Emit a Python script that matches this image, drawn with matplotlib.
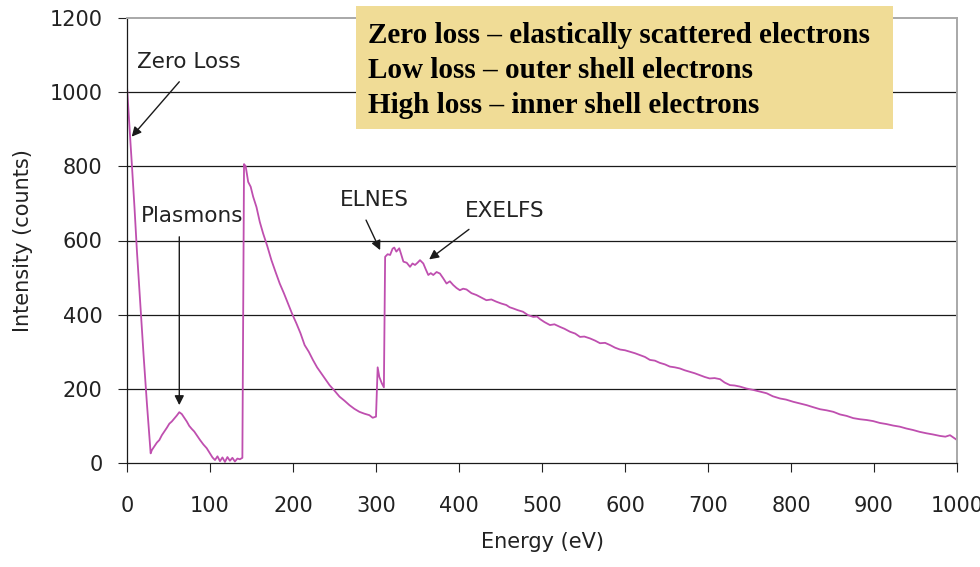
import matplotlib
matplotlib.use("Agg")
import matplotlib.pyplot as plt
from matplotlib.patches import Rectangle

# ---- data ----
energy_zero = [0, 2, 4, 6, 9, 12, 16.5, 20, 24, 28.5]
counts_zero = [1015, 940, 870, 800, 690, 570, 410, 290, 160, 26]

energy_plasmon = [30, 33, 36, 39, 42, 45, 48, 51, 54, 57, 60, 63, 66, 69, 72, 75, 78, 81, 84, 88,
                  92, 96, 100, 103, 106, 109, 112, 115, 118, 121, 124, 127, 130, 133, 136, 139]
counts_plasmon = [35, 45, 55, 62, 75, 85, 95, 106, 112, 120, 128, 137, 132, 122, 112, 100, 92, 85, 75, 62,
                  50, 40, 26, 15, 8, 18, 5, 15, 3, 16, 6, 14, 4, 12, 10, 14]

energy_edge1 = [141, 143, 146, 149, 152, 156, 160, 164, 169, 174, 179, 184, 189, 194, 199, 204, 209, 214,
                219, 224, 229, 234, 239, 244, 250, 256, 262, 268, 274, 280, 286, 292, 296, 300]
counts_edge1 = [806, 800, 758, 745, 718, 690, 650, 619, 585, 547, 515, 484, 458, 430, 402, 377, 350, 318,
                300, 278, 258, 242, 226, 210, 195, 179, 168, 156, 146, 138, 133, 129, 122, 125]

energy_edge2 = [302, 304, 307, 309.5, 311, 314, 317, 320, 322, 324.5, 328, 330, 333, 337, 341, 344, 347,
                350, 353, 357, 360, 363, 366, 369, 373, 377, 381, 385, 389, 393, 397, 401, 405, 409,
                415, 421, 427, 433, 439, 445, 451, 457, 461, 465, 471, 477, 483, 489.5, 494, 497.6]
counts_edge2 = [258, 232, 215, 204, 556, 563, 561, 578, 581, 570, 579, 565, 543, 540, 529, 538, 534,
                540, 547, 538, 522, 507, 512, 507, 515, 511, 498, 484, 490, 480, 472, 466, 470, 468,
                458, 453, 446, 439, 441, 435, 430, 426, 420, 417, 412, 408, 399, 394, 395, 388]

energy_tail = [503, 509.6, 515, 521.7, 527, 533.7, 540, 545.8, 551, 557.8, 564, 569.9, 576, 582, 588, 594,
               600, 606, 612, 618, 624, 630, 636, 642, 648, 654, 660, 666, 672, 678, 684, 690, 696, 702,
               708, 714.5, 720, 726.5, 732, 738.6, 746, 754.6, 762, 770.7, 778, 786.7, 794, 802.8, 810,
               818.9, 826, 835, 843, 851, 859, 867, 875, 883, 891, 899, 907, 915, 923, 931, 939, 947,
               955, 963.5, 971, 979.5, 986, 991.6, 996, 1000]
counts_tail = [380, 372, 374, 367, 362, 354, 349, 340, 341, 336, 330, 323, 324, 318, 311, 306,
               304, 300, 296, 291, 286, 278, 276, 270, 266, 260, 258, 255, 250, 246, 242, 237, 232, 228,
               229, 226, 217, 210, 209, 206, 201, 197, 193, 188, 180, 174, 171, 165, 161,
               156, 151, 145, 142, 138, 131, 127, 121, 118, 116, 113, 108, 105, 101, 98, 93, 89,
               84, 80, 77, 73, 71, 75, 68, 62]

energy = energy_zero + energy_plasmon + energy_edge1 + energy_edge2 + energy_tail
counts = counts_zero + counts_plasmon + counts_edge1 + counts_edge2 + counts_tail

x_ticks = list(range(0, 1001, 100))
y_ticks = list(range(0, 1201, 200))

legend_lines = ["Zero loss \u2013 elastically scattered electrons",
                "Low loss \u2013 outer shell electrons",
                "High loss \u2013 inner shell electrons"]

# ---- figure ----
plt.rcParams['font.family'] = ['DejaVu Sans']
W, H = 980, 567
fig = plt.figure(figsize=(W / 100, H / 100), dpi=100)
ax = fig.add_axes([127 / W, 1 - 463 / H, (957 - 127) / W, (463 - 18) / H])

ax.plot(energy, counts, color='#BF4FAF', lw=1.3)

ax.set_xlim(0, 1000)
ax.set_ylim(0, 1200)
ax.set_xticks(x_ticks)
ax.set_yticks(y_ticks)
ax.tick_params(axis='both', labelsize=15, colors='#222222', length=6.5, width=0.8)
ax.tick_params(axis='x', pad=17)
ax.tick_params(axis='y', pad=11)

for yv in y_ticks[1:-1]:
    ax.axhline(yv, color='#1a1a1a', lw=0.9, zorder=0)

for s in ['left', 'bottom']:
    ax.spines[s].set_color('#1a1a1a')
    ax.spines[s].set_linewidth(0.9)
for s in ['top', 'right']:
    ax.spines[s].set_color('#A8A8A8')
    ax.spines[s].set_linewidth(1.4)

ax.set_xlabel('Energy (eV)', fontsize=15, color='#222222', labelpad=12)
ax.set_ylabel('Intensity (counts)', fontsize=15, color='#222222', labelpad=12)

arrow = dict(arrowstyle='-|>', color='#1a1a1a', lw=1.0, mutation_scale=14, shrinkA=0, shrinkB=0)
ax.annotate('', xy=(5.7, 880), xytext=(63, 1028), arrowprops=arrow)
ax.text(12, 1082, 'Zero Loss', fontsize=15.5, color='#222222', ha='left', va='center')
ax.annotate('', xy=(63, 156), xytext=(63, 610), arrowprops=arrow)
ax.text(78, 666, 'Plasmons', fontsize=15.5, color='#222222', ha='center', va='center')
ax.annotate('', xy=(305, 574), xytext=(288, 655), arrowprops=arrow)
ax.text(297.6, 709, 'ELNES', fontsize=15.5, color='#222222', ha='center', va='center')
ax.annotate('', xy=(364, 549), xytext=(412, 630), arrowprops=arrow)
ax.text(455, 679, 'EXELFS', fontsize=15.5, color='#222222', ha='center', va='center')

# highlighted box
fig.patches.append(Rectangle((356 / W, 1 - 129 / H), (893 - 356) / W, (129 - 6) / H,
                             transform=fig.transFigure, facecolor='#F0DC96', edgecolor='none', zorder=5))
for i, line in enumerate(legend_lines):
    fig.text(368 / W, 1 - (43 + 35 * i) / H, line, fontsize=21, fontweight='bold',
             family=['Liberation Serif'], color='black', ha='left', va='baseline', zorder=6)

fig.savefig('out.png', dpi=100)
